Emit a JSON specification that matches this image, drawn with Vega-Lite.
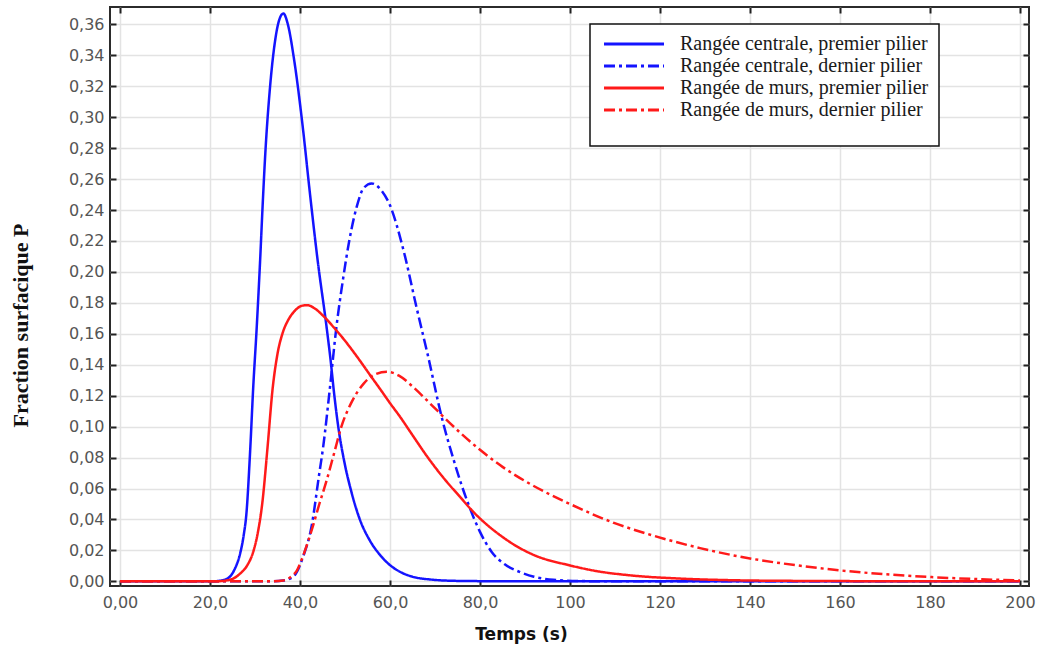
{
  "$schema": "https://vega.github.io/schema/vega-lite/v6.json",
  "width": 919,
  "height": 579,
  "autosize": "none",
  "padding": {"left": 110, "top": 7, "right": 12, "bottom": 62},
  "background": "white",
  "config": {
    "view": {"stroke": "#2b2b2b", "strokeWidth": 2},
    "axis": {
      "grid": false,
      "domain": false,
      "tickColor": "#222",
      "tickWidth": 2,
      "tickSize": -6,
      "labelFont": "DejaVu Sans",
      "labelFontSize": 16,
      "labelColor": "#555"
    }
  },
  "data": {"values": [
    {"s": "Rangée centrale, premier pilier", "t": 0, "p": 0},
    {"s": "Rangée centrale, premier pilier", "t": 20, "p": 0},
    {"s": "Rangée centrale, premier pilier", "t": 22.5, "p": 0.0005},
    {"s": "Rangée centrale, premier pilier", "t": 24.4, "p": 0.003},
    {"s": "Rangée centrale, premier pilier", "t": 25.5, "p": 0.008},
    {"s": "Rangée centrale, premier pilier", "t": 26.7, "p": 0.018},
    {"s": "Rangée centrale, premier pilier", "t": 27.5, "p": 0.03},
    {"s": "Rangée centrale, premier pilier", "t": 28.1, "p": 0.044},
    {"s": "Rangée centrale, premier pilier", "t": 28.9, "p": 0.083},
    {"s": "Rangée centrale, premier pilier", "t": 29.6, "p": 0.125},
    {"s": "Rangée centrale, premier pilier", "t": 30.4, "p": 0.165},
    {"s": "Rangée centrale, premier pilier", "t": 31.1, "p": 0.205},
    {"s": "Rangée centrale, premier pilier", "t": 31.7, "p": 0.243},
    {"s": "Rangée centrale, premier pilier", "t": 32.3, "p": 0.277},
    {"s": "Rangée centrale, premier pilier", "t": 33.3, "p": 0.318},
    {"s": "Rangée centrale, premier pilier", "t": 34.4, "p": 0.348},
    {"s": "Rangée centrale, premier pilier", "t": 35.4, "p": 0.363},
    {"s": "Rangée centrale, premier pilier", "t": 36.3, "p": 0.367},
    {"s": "Rangée centrale, premier pilier", "t": 37.3, "p": 0.36},
    {"s": "Rangée centrale, premier pilier", "t": 38.7, "p": 0.337},
    {"s": "Rangée centrale, premier pilier", "t": 40.6, "p": 0.294},
    {"s": "Rangée centrale, premier pilier", "t": 42.2, "p": 0.251},
    {"s": "Rangée centrale, premier pilier", "t": 43.9, "p": 0.208},
    {"s": "Rangée centrale, premier pilier", "t": 45.9, "p": 0.1645},
    {"s": "Rangée centrale, premier pilier", "t": 46.8, "p": 0.143},
    {"s": "Rangée centrale, premier pilier", "t": 47.6, "p": 0.121},
    {"s": "Rangée centrale, premier pilier", "t": 48.5, "p": 0.1},
    {"s": "Rangée centrale, premier pilier", "t": 49.8, "p": 0.078},
    {"s": "Rangée centrale, premier pilier", "t": 51.5, "p": 0.057},
    {"s": "Rangée centrale, premier pilier", "t": 53.3, "p": 0.04},
    {"s": "Rangée centrale, premier pilier", "t": 55.4, "p": 0.027},
    {"s": "Rangée centrale, premier pilier", "t": 57.8, "p": 0.017},
    {"s": "Rangée centrale, premier pilier", "t": 60, "p": 0.0105},
    {"s": "Rangée centrale, premier pilier", "t": 62.2, "p": 0.0062},
    {"s": "Rangée centrale, premier pilier", "t": 65, "p": 0.003},
    {"s": "Rangée centrale, premier pilier", "t": 69, "p": 0.0012},
    {"s": "Rangée centrale, premier pilier", "t": 75, "p": 0.0003},
    {"s": "Rangée centrale, premier pilier", "t": 90, "p": 0},
    {"s": "Rangée centrale, premier pilier", "t": 200, "p": 0},

    {"s": "Rangée centrale, dernier pilier", "t": 0, "p": 0},
    {"s": "Rangée centrale, dernier pilier", "t": 33, "p": 0},
    {"s": "Rangée centrale, dernier pilier", "t": 36.3, "p": 0.0006},
    {"s": "Rangée centrale, dernier pilier", "t": 38.5, "p": 0.003},
    {"s": "Rangée centrale, dernier pilier", "t": 40.7, "p": 0.016},
    {"s": "Rangée centrale, dernier pilier", "t": 42.6, "p": 0.036},
    {"s": "Rangée centrale, dernier pilier", "t": 44.2, "p": 0.068},
    {"s": "Rangée centrale, dernier pilier", "t": 45.2, "p": 0.088},
    {"s": "Rangée centrale, dernier pilier", "t": 46.5, "p": 0.121},
    {"s": "Rangée centrale, dernier pilier", "t": 48.1, "p": 0.1645},
    {"s": "Rangée centrale, dernier pilier", "t": 49.6, "p": 0.196},
    {"s": "Rangée centrale, dernier pilier", "t": 51, "p": 0.221},
    {"s": "Rangée centrale, dernier pilier", "t": 52.6, "p": 0.242},
    {"s": "Rangée centrale, dernier pilier", "t": 54.1, "p": 0.254},
    {"s": "Rangée centrale, dernier pilier", "t": 55.9, "p": 0.2572},
    {"s": "Rangée centrale, dernier pilier", "t": 58, "p": 0.253},
    {"s": "Rangée centrale, dernier pilier", "t": 60, "p": 0.243},
    {"s": "Rangée centrale, dernier pilier", "t": 63, "p": 0.214},
    {"s": "Rangée centrale, dernier pilier", "t": 65.9, "p": 0.177},
    {"s": "Rangée centrale, dernier pilier", "t": 68.5, "p": 0.145},
    {"s": "Rangée centrale, dernier pilier", "t": 71.5, "p": 0.106},
    {"s": "Rangée centrale, dernier pilier", "t": 74.3, "p": 0.077},
    {"s": "Rangée centrale, dernier pilier", "t": 77.4, "p": 0.05},
    {"s": "Rangée centrale, dernier pilier", "t": 80, "p": 0.032},
    {"s": "Rangée centrale, dernier pilier", "t": 82.6, "p": 0.019},
    {"s": "Rangée centrale, dernier pilier", "t": 85.5, "p": 0.011},
    {"s": "Rangée centrale, dernier pilier", "t": 88.9, "p": 0.006},
    {"s": "Rangée centrale, dernier pilier", "t": 92, "p": 0.003},
    {"s": "Rangée centrale, dernier pilier", "t": 96.3, "p": 0.001},
    {"s": "Rangée centrale, dernier pilier", "t": 102, "p": 0.0002},
    {"s": "Rangée centrale, dernier pilier", "t": 115, "p": 0},
    {"s": "Rangée centrale, dernier pilier", "t": 200, "p": 0},

    {"s": "Rangée de murs, premier pilier", "t": 0, "p": 0},
    {"s": "Rangée de murs, premier pilier", "t": 21, "p": 0},
    {"s": "Rangée de murs, premier pilier", "t": 24.4, "p": 0.001},
    {"s": "Rangée de murs, premier pilier", "t": 26.7, "p": 0.005},
    {"s": "Rangée de murs, premier pilier", "t": 28.2, "p": 0.01},
    {"s": "Rangée de murs, premier pilier", "t": 29.6, "p": 0.019},
    {"s": "Rangée de murs, premier pilier", "t": 30.6, "p": 0.031},
    {"s": "Rangée de murs, premier pilier", "t": 31.6, "p": 0.05},
    {"s": "Rangée de murs, premier pilier", "t": 32.8, "p": 0.087},
    {"s": "Rangée de murs, premier pilier", "t": 33.9, "p": 0.124},
    {"s": "Rangée de murs, premier pilier", "t": 35, "p": 0.147},
    {"s": "Rangée de murs, premier pilier", "t": 36.2, "p": 0.161},
    {"s": "Rangée de murs, premier pilier", "t": 37.4, "p": 0.169},
    {"s": "Rangée de murs, premier pilier", "t": 38.9, "p": 0.175},
    {"s": "Rangée de murs, premier pilier", "t": 40.3, "p": 0.178},
    {"s": "Rangée de murs, premier pilier", "t": 41.6, "p": 0.1785},
    {"s": "Rangée de murs, premier pilier", "t": 43.2, "p": 0.1765},
    {"s": "Rangée de murs, premier pilier", "t": 45.2, "p": 0.1715},
    {"s": "Rangée de murs, premier pilier", "t": 47.4, "p": 0.1645},
    {"s": "Rangée de murs, premier pilier", "t": 50, "p": 0.1555},
    {"s": "Rangée de murs, premier pilier", "t": 52.6, "p": 0.1455},
    {"s": "Rangée de murs, premier pilier", "t": 55.9, "p": 0.132},
    {"s": "Rangée de murs, premier pilier", "t": 58, "p": 0.1235},
    {"s": "Rangée de murs, premier pilier", "t": 60, "p": 0.1152},
    {"s": "Rangée de murs, premier pilier", "t": 62.2, "p": 0.1065},
    {"s": "Rangée de murs, premier pilier", "t": 65, "p": 0.0945},
    {"s": "Rangée de murs, premier pilier", "t": 68.3, "p": 0.0805},
    {"s": "Rangée de murs, premier pilier", "t": 72, "p": 0.0665},
    {"s": "Rangée de murs, premier pilier", "t": 75.6, "p": 0.0545},
    {"s": "Rangée de murs, premier pilier", "t": 78, "p": 0.0465},
    {"s": "Rangée de murs, premier pilier", "t": 81, "p": 0.038},
    {"s": "Rangée de murs, premier pilier", "t": 84.4, "p": 0.03},
    {"s": "Rangée de murs, premier pilier", "t": 87.4, "p": 0.024},
    {"s": "Rangée de murs, premier pilier", "t": 92, "p": 0.017},
    {"s": "Rangée de murs, premier pilier", "t": 100, "p": 0.0103},
    {"s": "Rangée de murs, premier pilier", "t": 106, "p": 0.0066},
    {"s": "Rangée de murs, premier pilier", "t": 113.3, "p": 0.0039},
    {"s": "Rangée de murs, premier pilier", "t": 124.4, "p": 0.0018},
    {"s": "Rangée de murs, premier pilier", "t": 135, "p": 0.0008},
    {"s": "Rangée de murs, premier pilier", "t": 150, "p": 0.0003},
    {"s": "Rangée de murs, premier pilier", "t": 170, "p": 0.0001},
    {"s": "Rangée de murs, premier pilier", "t": 200, "p": 0},

    {"s": "Rangée de murs, dernier pilier", "t": 0, "p": 0},
    {"s": "Rangée de murs, dernier pilier", "t": 33, "p": 0},
    {"s": "Rangée de murs, dernier pilier", "t": 36.3, "p": 0.0006},
    {"s": "Rangée de murs, dernier pilier", "t": 38, "p": 0.003},
    {"s": "Rangée de murs, dernier pilier", "t": 39.3, "p": 0.007},
    {"s": "Rangée de murs, dernier pilier", "t": 40.5, "p": 0.015},
    {"s": "Rangée de murs, dernier pilier", "t": 41.6, "p": 0.024},
    {"s": "Rangée de murs, dernier pilier", "t": 42.8, "p": 0.035},
    {"s": "Rangée de murs, dernier pilier", "t": 44.3, "p": 0.05},
    {"s": "Rangée de murs, dernier pilier", "t": 45.9, "p": 0.065},
    {"s": "Rangée de murs, dernier pilier", "t": 47.6, "p": 0.083},
    {"s": "Rangée de murs, dernier pilier", "t": 49.2, "p": 0.1},
    {"s": "Rangée de murs, dernier pilier", "t": 51.5, "p": 0.116},
    {"s": "Rangée de murs, dernier pilier", "t": 54.2, "p": 0.128},
    {"s": "Rangée de murs, dernier pilier", "t": 56.5, "p": 0.1335},
    {"s": "Rangée de murs, dernier pilier", "t": 59.3, "p": 0.1354},
    {"s": "Rangée de murs, dernier pilier", "t": 62, "p": 0.133},
    {"s": "Rangée de murs, dernier pilier", "t": 65, "p": 0.126},
    {"s": "Rangée de murs, dernier pilier", "t": 68.9, "p": 0.115},
    {"s": "Rangée de murs, dernier pilier", "t": 72, "p": 0.106},
    {"s": "Rangée de murs, dernier pilier", "t": 76, "p": 0.095},
    {"s": "Rangée de murs, dernier pilier", "t": 80, "p": 0.085},
    {"s": "Rangée de murs, dernier pilier", "t": 85, "p": 0.074},
    {"s": "Rangée de murs, dernier pilier", "t": 91.1, "p": 0.063},
    {"s": "Rangée de murs, dernier pilier", "t": 100, "p": 0.05},
    {"s": "Rangée de murs, dernier pilier", "t": 109.6, "p": 0.038},
    {"s": "Rangée de murs, dernier pilier", "t": 118, "p": 0.03},
    {"s": "Rangée de murs, dernier pilier", "t": 128.9, "p": 0.0215},
    {"s": "Rangée de murs, dernier pilier", "t": 140, "p": 0.0148},
    {"s": "Rangée de murs, dernier pilier", "t": 150, "p": 0.0105},
    {"s": "Rangée de murs, dernier pilier", "t": 160, "p": 0.0071},
    {"s": "Rangée de murs, dernier pilier", "t": 170, "p": 0.0046},
    {"s": "Rangée de murs, dernier pilier", "t": 180, "p": 0.0028},
    {"s": "Rangée de murs, dernier pilier", "t": 190, "p": 0.0015},
    {"s": "Rangée de murs, dernier pilier", "t": 200, "p": 0.0006}
  ]},
  "layer": [
    {
      "mark": {"type": "line", "strokeWidth": 2.5, "interpolate": "monotone", "clip": true},
      "encoding": {
        "x": {
          "field": "t", "type": "quantitative",
          "scale": {"domain": [-2.22, 202], "nice": false, "zero": false},
          "axis": {
            "orient": "bottom",
            "values": [0, 20, 40, 60, 80, 100, 120, 140, 160, 180, 200],
            "grid": true, "gridColor": "#e3e3e3", "gridWidth": 1.5,
            "labelExpr": "datum.value == 0 ? '0,00' : replace(format(datum.value, '.3r'), '.', ',')",
            "labelPadding": 14,
            "title": "Temps (s)",
            "titleFont": "DejaVu Sans", "titleFontSize": 17, "titleFontWeight": "bold", "titleColor": "#111",
            "titleX": 411, "titleY": 48, "titleBaseline": "middle"
          }
        },
        "y": {
          "field": "p", "type": "quantitative",
          "scale": {"domain": [-0.003, 0.3712], "nice": false, "zero": false},
          "axis": {
            "orient": "left",
            "values": [0, 0.02, 0.04, 0.06, 0.08, 0.1, 0.12, 0.14, 0.16, 0.18, 0.2, 0.22, 0.24, 0.26, 0.28, 0.3, 0.32, 0.34, 0.36],
            "grid": true, "gridColor": "#e3e3e3", "gridWidth": 1.5,
            "labelExpr": "replace(format(datum.value, '.2f'), '.', ',')",
            "labelPadding": 12,
            "title": "Fraction surfacique P",
            "titleFont": "Liberation Serif", "titleFontSize": 22, "titleFontWeight": "bold", "titleColor": "#111",
            "titleX": -90, "titleY": 318, "titleBaseline": "middle"
          }
        },
        "color": {
          "field": "s", "type": "nominal",
          "scale": {
            "domain": ["Rangée centrale, premier pilier", "Rangée centrale, dernier pilier", "Rangée de murs, premier pilier", "Rangée de murs, dernier pilier"],
            "range": ["#1414ff", "#1414ff", "#ff1a1a", "#ff1a1a"]
          },
          "legend": {
            "title": "\u00a0",
            "titleOrient": "bottom",
            "titleFont": "Liberation Serif",
            "titleFontSize": 12,
            "titlePadding": 5,
            "orient": "none",
            "legendX": 480,
            "legendY": 17,
            "fillColor": "white",
            "strokeColor": "#111",
            "padding": 10,
            "symbolType": "M-1,0H9",
            "symbolSize": 144,
            "symbolStrokeWidth": 3,
            "rowPadding": 2,
            "labelOffset": 60,
            "labelFont": "Liberation Serif",
            "labelFontSize": 20,
            "labelColor": "#1a1a1a",
            "labelLimit": 600,
            "encode": {
              "legend": {"update": {"strokeWidth": {"value": 1.5}}},
              "symbols": {"update": {"stroke": {"signal": "indexof(datum.value, 'centrale') >= 0 ? '#4a7ebb' : '#ff0000'"}, "fill": {"value": "transparent"}}}
            }
          }
        },
        "strokeDash": {
          "field": "s", "type": "nominal",
          "scale": {
            "domain": ["Rangée centrale, premier pilier", "Rangée centrale, dernier pilier", "Rangée de murs, premier pilier", "Rangée de murs, dernier pilier"],
            "range": [[1, 0], [11, 4, 3, 4], [1, 0], [11, 4, 3, 4]]
          },
          "legend": null
        }
      }
    },
    {
      "mark": {"type": "line", "opacity": 0},
      "encoding": {
        "x": {
          "field": "t", "type": "quantitative",
          "axis": {"orient": "top", "values": [0, 20, 40, 60, 80, 100, 120, 140, 160, 180, 200], "labels": false, "title": null, "grid": false}
        },
        "y": {
          "field": "p", "type": "quantitative",
          "axis": {"orient": "right", "values": [0, 0.02, 0.04, 0.06, 0.08, 0.1, 0.12, 0.14, 0.16, 0.18, 0.2, 0.22, 0.24, 0.26, 0.28, 0.3, 0.32, 0.34, 0.36], "labels": false, "title": null, "grid": false}
        },
        "detail": {"field": "s"}
      }
    }
  ],
  "resolve": {"axis": {"x": "independent", "y": "independent"}}
}
